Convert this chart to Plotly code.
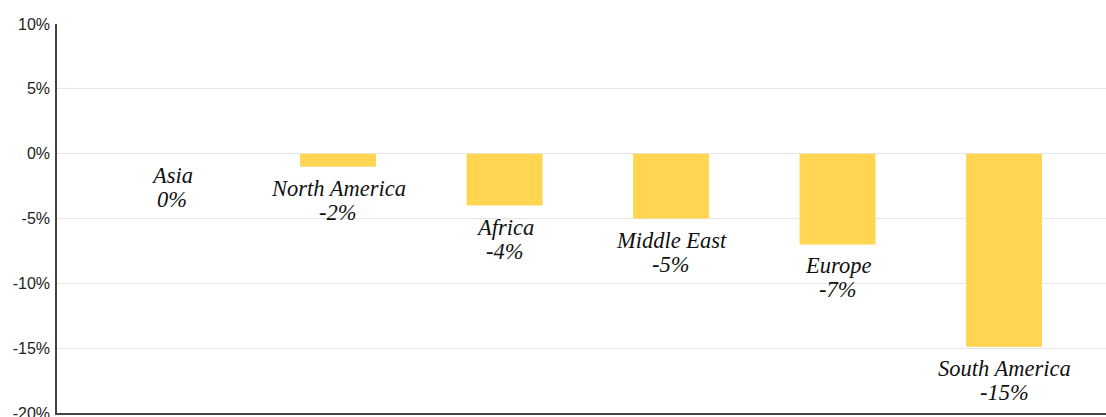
import plotly.graph_objects as go

regions = ["Asia", "North America", "Africa", "Middle East", "Europe", "South America"]
values = [0, -1, -4, -5, -7, -14.9]
value_labels = ["0%", "-2%", "-4%", "-5%", "-7%", "-15%"]
tick_vals = [10, 5, 0, -5, -10, -15, -20]
tick_text = ["10%", "5%", "0%", "-5%", "-10%", "-15%", "-20%"]

fig = go.Figure()
fig.add_trace(go.Bar(
    x=regions, y=values, width=0.456,
    marker=dict(color="#FFD551", line=dict(width=0)),
    hoverinfo="skip",
))

label_font = dict(family="Liberation Serif", size=22.5, color="#111111", style="italic")
for r, v, lab in zip(regions, values, value_labels):
    fig.add_annotation(
        x=r, y=v, xref="x", yref="y", text=r, showarrow=False,
        yanchor="top", xanchor="center", yshift=-7, font=label_font,
    )
    fig.add_annotation(
        x=r, y=v, xref="x", yref="y", text=lab, showarrow=False,
        yanchor="top", xanchor="center", yshift=-31, font=label_font,
    )

fig.update_layout(
    width=1106, height=417,
    margin=dict(l=57, r=0, t=24, b=4, autoexpand=False),
    paper_bgcolor="white", plot_bgcolor="white",
    showlegend=False,
    xaxis=dict(
        type="category", range=[-0.688, 5.6126], automargin=False,
        showticklabels=False, showgrid=False, zeroline=False,
        showline=True, linecolor="#444444", linewidth=1.5, ticks="",
    ),
    yaxis=dict(
        range=[-20, 10], tickvals=tick_vals, ticktext=tick_text, automargin=False,
        showgrid=True, gridcolor="#e6e6e6", gridwidth=1,
        zeroline=False, showline=True, linecolor="#444444", linewidth=1.5,
        ticks="", ticklabelstandoff=2, ticklabeloverflow="allow",
        tickfont=dict(family="Liberation Sans", size=16, color="#222222"),
    ),
)

fig.write_html("out.html")
